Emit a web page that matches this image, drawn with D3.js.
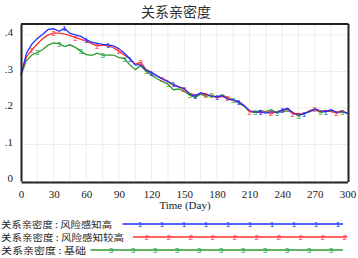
<!DOCTYPE html>
<html>
<head>
<meta charset="utf-8">
<script src="https://cdn.jsdelivr.net/npm/d3@7"></script>
<style>
body { margin: 0; background: #fff; }
svg { display: block; }
</style>
</head>
<body>
<script>
var w = 358;
var h = 258;

// days sampled every 5 days, 0..300
var days = d3.range(0, 301, 5);

var seriesHigh = [0.29,0.35,0.375,0.39,0.402,0.415,0.417,0.41,0.418,0.404,
  0.4,0.396,0.387,0.38,0.377,0.374,0.373,0.37,0.362,0.35,
  0.335,0.318,0.318,0.303,0.296,0.288,0.279,0.272,0.265,0.258,
  0.253,0.238,0.232,0.242,0.238,0.232,0.231,0.233,0.224,0.222,
  0.217,0.206,0.193,0.188,0.19,0.186,0.19,0.188,0.195,0.199,
  0.186,0.181,0.184,0.19,0.197,0.192,0.19,0.195,0.188,0.19,0.186];

var seriesHigher = [0.29,0.34,0.36,0.375,0.39,0.4,0.405,0.405,0.402,0.398,
  0.393,0.388,0.383,0.376,0.37,0.372,0.37,0.365,0.355,0.345,
  0.335,0.32,0.325,0.305,0.298,0.288,0.28,0.274,0.262,0.258,
  0.251,0.24,0.235,0.24,0.236,0.234,0.228,0.232,0.227,0.22,
  0.218,0.207,0.19,0.19,0.187,0.19,0.185,0.19,0.193,0.197,
  0.183,0.185,0.183,0.193,0.196,0.19,0.193,0.19,0.187,0.193,0.185];

var seriesBase = [0.29,0.33,0.345,0.352,0.36,0.372,0.378,0.376,0.368,0.373,
  0.366,0.355,0.346,0.344,0.35,0.345,0.345,0.345,0.338,0.335,
  0.318,0.305,0.316,0.3,0.29,0.28,0.272,0.265,0.25,0.252,
  0.245,0.236,0.228,0.238,0.232,0.235,0.23,0.236,0.228,0.222,
  0.213,0.205,0.19,0.188,0.193,0.19,0.195,0.187,0.19,0.192,
  0.188,0.178,0.186,0.19,0.196,0.188,0.19,0.192,0.186,0.19,0.185];

var seriesNames = ["关系亲密度 : 风险感知高", "关系亲密度 : 风险感知较高", "关系亲密度 : 基础"];
var seriesLabels = ["1", "2", "3"];
var seriesColors = ["#2030ff", "#ff3030", "#2e9a2e"];
var xTicks = [0, 30, 60, 90, 120, 150, 180, 210, 240, 270, 300];
var yTicks = [0, 0.1, 0.2, 0.3, 0.4];
var yTickLabels = ["0", ".1", ".2", ".3", ".4"];

var allSeries = [seriesHigh, seriesHigher, seriesBase];

var x = d3.scaleLinear().domain([0, 300]).range([21, 347.5]);
var y = d3.scaleLinear().domain([0, 0.43]).range([181, 24]);

var svg = d3.select("body").append("svg")
  .attr("width", w)
  .attr("height", h);

// title
svg.append("text")
  .attr("x", 176).attr("y", 17)
  .attr("text-anchor", "middle")
  .style("font-family", "'Noto Sans CJK SC'")
  .style("font-size", "14px")
  .style("fill", "#333")
  .text("关系亲密度");

// grid
var grid = svg.append("g");
grid.selectAll("line.v")
  .data(d3.range(15, 300, 15))
  .enter().append("line")
  .attr("x1", function(d){ return x(d); })
  .attr("x2", function(d){ return x(d); })
  .attr("y1", y(0.43)).attr("y2", y(0))
  .style("stroke", "#ececec");
grid.selectAll("line.h")
  .data([0.1, 0.2, 0.3, 0.4])
  .enter().append("line")
  .attr("y1", function(d){ return y(d); })
  .attr("y2", function(d){ return y(d); })
  .attr("x1", x(0)).attr("x2", x(300))
  .style("stroke", "#ececec");

// lines
var line = d3.line()
  .x(function(d, i){ return x(days[i]); })
  .y(function(d){ return y(d); });

var lines = svg.append("g");
// draw base first so blue ends on top
[2, 1, 0].forEach(function(k){
  lines.append("path")
    .datum(allSeries[k])
    .attr("d", line)
    .style("fill", "none")
    .style("stroke", seriesColors[k])
    .style("stroke-width", 1.3);
});

// markers on the lines
var markerOffsets = [40, 10, 15];
[2, 1, 0].forEach(function(k){
  var idx = d3.range(markerOffsets[k] / 5, days.length - 1, 4);
  lines.selectAll("text.m" + k)
    .data(idx)
    .enter().append("text")
    .attr("x", function(i){ return x(days[i]); })
    .attr("y", function(i){ return y(allSeries[k][i]) + 3; })
    .attr("text-anchor", "middle")
    .style("font-family", "'Liberation Sans'")
    .style("font-size", "8px")
    .style("fill", seriesColors[k])
    .text(seriesLabels[k]);
});

// frame
var frame = svg.append("g").style("stroke", "#222").style("fill", "none");
frame.append("line").attr("x1", x(0)).attr("x2", x(300) + 1).attr("y1", y(0.43)).attr("y2", y(0.43)).style("stroke-width", 2);
frame.append("line").attr("x1", x(300) + 1).attr("x2", x(300) + 1).attr("y1", y(0.43)).attr("y2", y(0) + 1).style("stroke-width", 2);

// axes
var xAxis = svg.append("g")
  .attr("transform", "translate(0," + (y(0) + 1) + ")")
  .call(d3.axisBottom(x).tickValues(xTicks).tickSize(0).tickPadding(8));
var yAxis = svg.append("g")
  .attr("transform", "translate(" + x(0) + ",0)")
  .call(d3.axisLeft(y).tickValues(yTicks).tickSize(0).tickPadding(8)
    .tickFormat(function(d, i){ return yTickLabels[i]; }));

[xAxis, yAxis].forEach(function(a){
  a.select(".domain").style("stroke", "#222").style("stroke-width", 2);
  a.selectAll("text")
    .style("font-family", "'Liberation Serif'")
    .style("font-size", "11px")
    .style("fill", "#222");
});
yAxis.selectAll("text").attr("dy", "0.05em");

// x axis title
svg.append("text")
  .attr("x", 185).attr("y", 209)
  .attr("text-anchor", "middle")
  .style("font-family", "'Liberation Serif'")
  .style("font-size", "11px")
  .style("fill", "#222")
  .text("Time (Day)");

// legend
var legendY = [224, 237, 250];
var legendTextWidth = [111, 123, 85];
var legendLineStart = [122.5, 133, 90.5];
var legendLineEnd = [343, 347, 343];
var legendMarkStart = [140, 147, 111];
var legendMarkCount = [10, 10, 11];

var legend = svg.append("g");
seriesNames.forEach(function(name, k){
  legend.append("text")
    .attr("x", 1).attr("y", legendY[k] + 3.5)
    .attr("textLength", legendTextWidth[k])
    .attr("lengthAdjust", "spacingAndGlyphs")
    .style("font-family", "'Noto Sans CJK SC'")
    .style("font-size", "8.8px")
    .style("fill", "#222")
    .text(name);
  legend.append("line")
    .attr("x1", legendLineStart[k]).attr("x2", legendLineEnd[k])
    .attr("y1", legendY[k]).attr("y2", legendY[k])
    .style("stroke", seriesColors[k])
    .style("stroke-width", 1.3);
  legend.selectAll("text.lm" + k)
    .data(d3.range(legendMarkCount[k]))
    .enter().append("text")
    .attr("x", function(i){ return legendMarkStart[k] + i * 22; })
    .attr("y", legendY[k] + 3)
    .attr("text-anchor", "middle")
    .style("font-family", "'Liberation Sans'")
    .style("font-size", "8px")
    .style("fill", seriesColors[k])
    .text(seriesLabels[k]);
});
</script>
</body>
</html>
